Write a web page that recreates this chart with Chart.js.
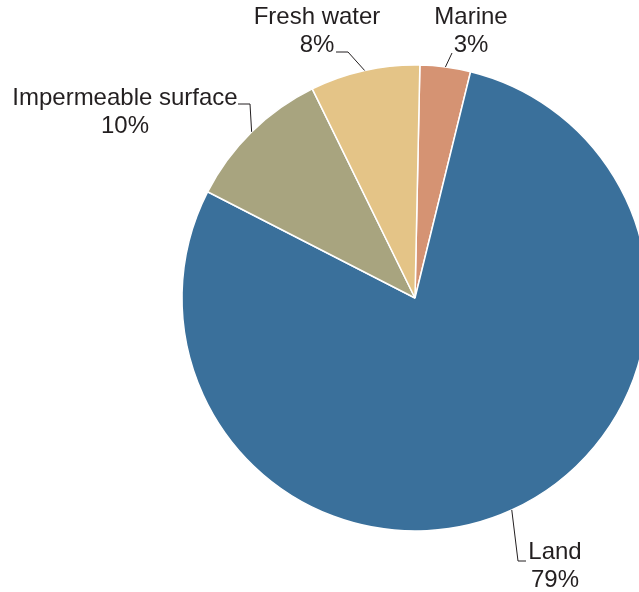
<!DOCTYPE html>
<html>
<head>
<meta charset="utf-8">
<script src="https://cdn.jsdelivr.net/npm/chart.js@4/dist/chart.umd.min.js"></script>
<style>
  html, body { margin: 0; padding: 0; background: #fff; overflow: hidden; }
  #wrap { width: 639px; height: 592px; overflow: hidden; position: relative; }
  canvas { display: block; }
</style>
</head>
<body>
<div id="wrap"><canvas id="c" width="660" height="592"></canvas></div>
<script>
// Data
const categories = ["Marine", "Land", "Impermeable surface", "Fresh water"];
const values = [3.5, 78.7, 10.2, 7.6];
const percentLabels = ["3%", "79%", "10%", "8%"];
const colors = ["#D59373", "#3A709B", "#A8A47F", "#E4C487"];

// Label layout (text centre positions and leader elbows, in canvas pixels)
const labelLayout = [
  { x: 471, y: 17, elbow: null, end: [452, 53] },
  { x: 555, y: 552, elbow: [518, 561], end: [526, 561] },
  { x: 125, y: 98, elbow: [250, 104], end: [238, 104] },
  { x: 317, y: 17, elbow: [348, 52], end: [336, 52] }
];

const labelPlugin = {
  id: 'pieLabels',
  afterDatasetsDraw(chart) {
    const ctx = chart.ctx;
    const meta = chart.getDatasetMeta(0);
    ctx.save();
    ctx.strokeStyle = '#231F20';
    ctx.lineWidth = 1;
    ctx.fillStyle = '#231F20';
    ctx.font = '24px "Liberation Sans", Arial, sans-serif';
    ctx.textAlign = 'center';
    ctx.textBaseline = 'middle';
    meta.data.forEach((arc, i) => {
      const p = arc.getProps(['x', 'y', 'startAngle', 'endAngle', 'outerRadius'], true);
      const mid = (p.startAngle + p.endAngle) / 2;
      const ex = p.x + Math.cos(mid) * p.outerRadius;
      const ey = p.y + Math.sin(mid) * p.outerRadius;
      const L = labelLayout[i];
      ctx.beginPath();
      ctx.moveTo(ex, ey);
      if (L.elbow) ctx.lineTo(L.elbow[0], L.elbow[1]);
      ctx.lineTo(L.end[0], L.end[1]);
      ctx.stroke();
      ctx.fillText(categories[i], L.x, L.y);
      ctx.fillText(percentLabels[i], L.x, L.y + 28);
    });
    ctx.restore();
  }
};

new Chart(document.getElementById('c'), {
  type: 'pie',
  data: {
    labels: categories,
    datasets: [{
      data: values,
      backgroundColor: colors,
      borderColor: '#ffffff',
      borderWidth: 1.5,
      radius: 233,
      hoverOffset: 0
    }]
  },
  options: {
    responsive: false,
    animation: false,
    events: [],
    rotation: 1.2,
    layout: { padding: { left: 182, right: 12, top: 65, bottom: 61 } },
    plugins: {
      legend: { display: false },
      tooltip: { enabled: false },
      title: { display: false }
    }
  },
  plugins: [labelPlugin]
});
</script>
</body>
</html>
